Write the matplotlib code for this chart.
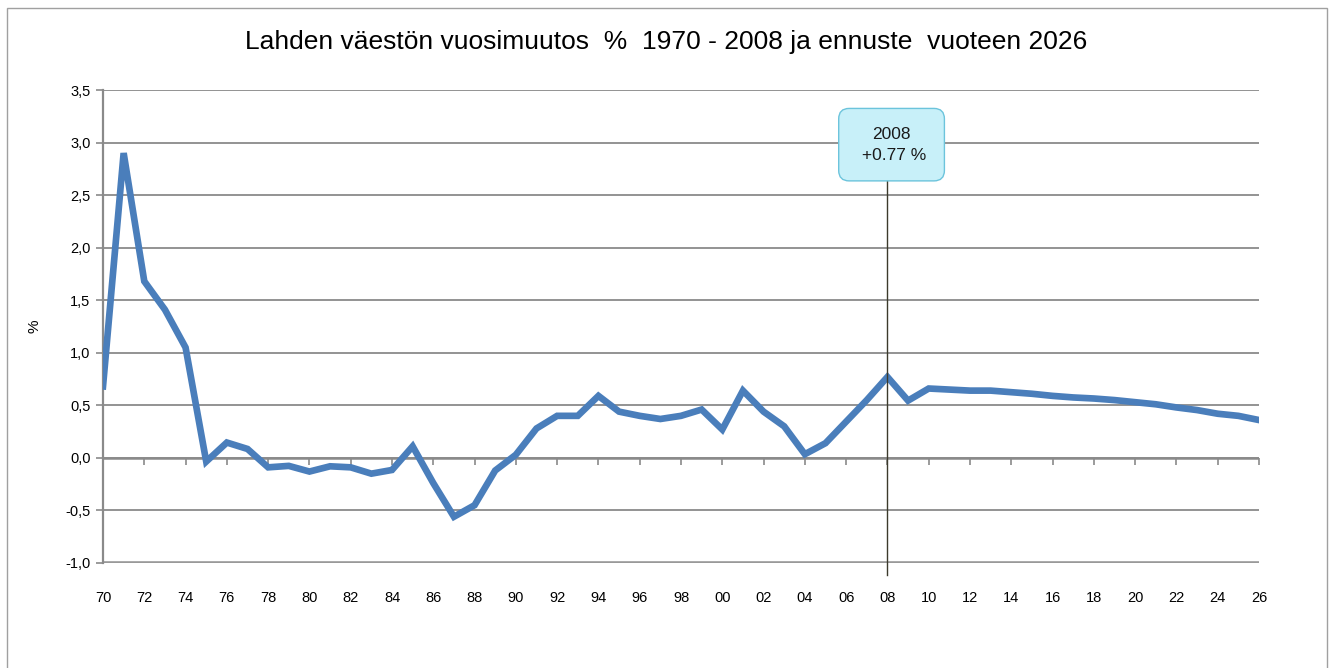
import numpy as np
import matplotlib
matplotlib.use("Agg")
import matplotlib.pyplot as plt
from matplotlib import font_manager
from matplotlib.patches import Rectangle
from matplotlib.ticker import FuncFormatter, MultipleLocator

# data: yearly population change of Lahti, % (1970-2008 actual, 2009-2026 forecast)
years = list(range(1970, 2027))
change = [
    0.68, 2.90, 1.68, 1.41, 1.05, -0.035, 0.146, 0.085, -0.09, -0.076,
    -0.13, -0.08, -0.09, -0.15, -0.115, 0.11, -0.24, -0.56, -0.45, -0.12,
    0.03, 0.28, 0.40, 0.40, 0.59, 0.44, 0.40, 0.37, 0.40, 0.46,
    0.27, 0.64, 0.44, 0.30, 0.035, 0.14, 0.345, 0.55, 0.77, 0.545,
    0.66, 0.65, 0.64, 0.64, 0.625, 0.61, 0.59, 0.575, 0.565, 0.55,
    0.53, 0.51, 0.48, 0.455, 0.42, 0.40, 0.36,
]
title = "Lahden väestön vuosimuutos  %  1970 - 2008 ja ennuste  vuoteen 2026"
ann_year = 2008
ann_value = 0.77

names = {f.name for f in font_manager.fontManager.ttflist}
base_font = "Liberation Sans Narrow" if "Liberation Sans Narrow" in names else "Liberation Sans"
plt.rcParams["font.family"] = [base_font, "DejaVu Sans"]

fig = plt.figure(figsize=(13.32, 6.68), dpi=100)
fig.patches.append(Rectangle((7 / 1332, -0.01), 1320 / 1332, 1 - 8 / 668 + 0.01,
                             transform=fig.transFigure, fill=False,
                             edgecolor="#a0a0a0", linewidth=1.0))

ax = fig.add_axes([103 / 1332, 1 - 563 / 668, 1156 / 1332, 473 / 668])
ax.set_xlim(1970, 2026)
ax.set_ylim(-1.0, 3.5)

ax.plot(years, change, color="#4a7ebb", linewidth=4.8, solid_joinstyle="miter", zorder=3)

# grid and axes
ax.yaxis.set_major_locator(MultipleLocator(0.5))
ax.grid(axis="y", color="#8a8a8a", linewidth=1.3)
ax.set_axisbelow(True)
for side in ["top", "right", "bottom"]:
    ax.spines[side].set_visible(False)
ax.spines["left"].set_color("#8a8a8a")
ax.spines["left"].set_linewidth(1.6)
ax.axhline(-1.0, color="#999999", linewidth=2.6, zorder=1)
ax.axhline(0.0, color="#8a8a8a", linewidth=1.8, zorder=1)

ax.yaxis.set_major_formatter(FuncFormatter(lambda v, p: f"{v:.1f}".replace(".", ",")))
ax.tick_params(axis="y", length=5, width=1.2, color="#8a8a8a", labelsize=10.5, pad=4)

ax.set_xticks(years[::2])
ax.set_xticklabels([f"{y % 100:02d}" for y in years[::2]])
ax.tick_params(axis="x", length=0, labelsize=10.5, pad=20)

# tick marks sit on the zero line
zero_frac = (0 - (-1.0)) / 4.5
sec = ax.secondary_xaxis(zero_frac)
sec.set_xticks(years[::2])
sec.set_xticklabels([])
sec.spines["bottom"].set_visible(False)
sec.tick_params(axis="x", direction="out", length=5, width=1.2, color="#8a8a8a")

ax.set_ylabel("%", fontsize=11)
ax.yaxis.set_label_coords(-(103 - 41) / 1156, 0.5)

# annotation
ax.axvline(ann_year, ymin=-0.025, ymax=(2.64 + 1.0) / 4.5, color="#3c3a2c",
           linewidth=1.0, clip_on=False, zorder=4)
ax.text(ann_year + 0.2, 2.98, f"{ann_year}\n +{ann_value:.2f} %", ha="center", va="center",
        fontsize=12.5, color="#1a1a1a", linespacing=1.5, zorder=5,
        bbox=dict(boxstyle="round,pad=1.05,rounding_size=0.6", fc="#c8f0f9",
                  ec="#6cc4dc", lw=1.0))

fig.text(0.5, 1 - 42 / 668, title, ha="center", va="center", fontsize=19)

fig.savefig("out.png", dpi=100)
